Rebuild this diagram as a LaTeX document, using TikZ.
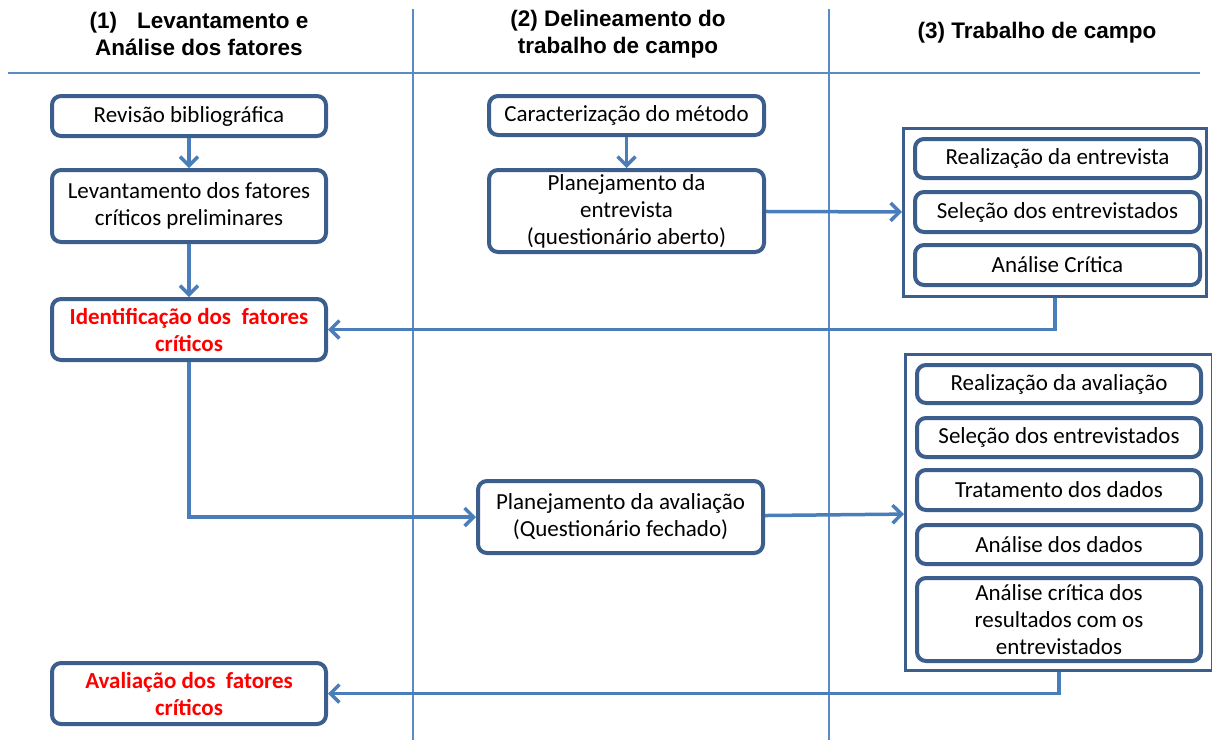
\documentclass[tikz,border=0pt]{standalone}
\usepackage{fontspec}
\setmainfont{Carlito}
\newfontfamily\headfont{Liberation Sans}
\usetikzlibrary{arrows.meta}
\definecolor{boxblue}{HTML}{3B5E8C}
\definecolor{flowblue}{HTML}{4A7EBB}
\definecolor{ruleblue}{HTML}{5B8AC6}

\begin{document}
\begin{tikzpicture}
    [
    x=1pt, y=-1pt,
    every node/.style={font=\fontsize{23}{27}\selectfont},
    stepbox/.style={draw=boxblue, line width=4pt, rounded corners=9pt, fill=white, align=center, inner sep=0pt},
    redbox/.style={stepbox, text=red, font=\fontsize{23}{27}\selectfont\bfseries},
    frame/.style={draw=boxblue, line width=3pt, fill=white, inner sep=0pt},
    head/.style={align=center, font=\headfont\bfseries\fontsize{22.5}{27}\selectfont},
    flow/.style={draw=flowblue, line width=3.5pt, -{Straight Barb[length=9pt,width=18pt]}},
    rule/.style={draw=ruleblue, line width=1.3pt},
    ]
    \useasboundingbox (0,0) rectangle (1212,740);
    \draw [rule] (8,73) -- (1200,73);
    \draw [rule] (413,9) -- (413,740);
    \draw [rule] (829,9) -- (829,740);

    \node (h1) at (199,34) [head] {(1)\hspace{20pt}Levantamento e\\Análise dos fatores};
    \node (h2) at (618,34) [head] {(2) Delineamento do\\trabalho de campo};
    \node (h3) at (1037,33) [head] {(3) Trabalho de campo};

    \node (rev) at (189,116) [stepbox, minimum width=274pt, minimum height=40pt] {Revisão bibliográfica};
    \node (lev) at (189,206) [stepbox, minimum width=274pt, minimum height=72pt] {Levantamento dos fatores\\críticos preliminares};
    \node (identif) at (189,329.5) [redbox, minimum width=274pt, minimum height=61pt] {Identificação dos\ \ fatores\\críticos};
    \node (avalfat) at (189,693.5) [redbox, minimum width=274pt, minimum height=61pt] {Avaliação dos\ \ fatores\\críticos};

    \node (carac) at (626.5,115.5) [stepbox, minimum width=275pt, minimum height=39pt] {Caracterização do método};
    \node (planE) at (626.5,211) [stepbox, minimum width=275pt, minimum height=82pt] {Planejamento da\\entrevista\\(questionário aberto)};
    \node (planA) at (620.5,517) [stepbox, minimum width=285pt, minimum height=72pt] {Planejamento da avaliação\\(Questionário fechado)};

    \node (field1) at (1055,212.5) [frame, minimum width=303pt, minimum height=168pt] {};
    \node (ent1) at (1057.5,158.5) [stepbox, minimum width=285pt, minimum height=39pt] {Realização da entrevista};
    \node (ent2) at (1057.5,212) [stepbox, minimum width=285pt, minimum height=40pt] {Seleção dos entrevistados};
    \node (ent3) at (1057.5,265) [stepbox, minimum width=285pt, minimum height=40pt] {Análise Crítica};

    \node (field2) at (1059,512.5) [frame, minimum width=307pt, minimum height=316pt] {};
    \node (av1) at (1059,384) [stepbox, minimum width=284pt, minimum height=38pt] {Realização da avaliação};
    \node (av2) at (1059,437.5) [stepbox, minimum width=284pt, minimum height=39pt] {Seleção dos entrevistados};
    \node (av3) at (1059,490) [stepbox, minimum width=284pt, minimum height=40pt] {Tratamento dos dados};
    \node (av4) at (1059,544.5) [stepbox, minimum width=284pt, minimum height=39pt] {Análise dos dados};
    \node (av5) at (1059,619.5) [stepbox, minimum width=284pt, minimum height=83pt] {Análise crítica dos\\resultados com os\\entrevistados};

    \draw [flow] (rev) -- (lev);
    \draw [flow] (lev) -- (identif);
    \draw [flow] (carac) -- (planE);
    \draw [flow] (planE) -- (field1);
    \draw [flow] (field1.south) |- (identif.east);
    \draw [flow] (identif.south) |- (planA.west);
    \draw [flow] (planA) -- (field2);
    \draw [flow] (field2.south) |- (avalfat.east);
\end{tikzpicture}
\end{document}
